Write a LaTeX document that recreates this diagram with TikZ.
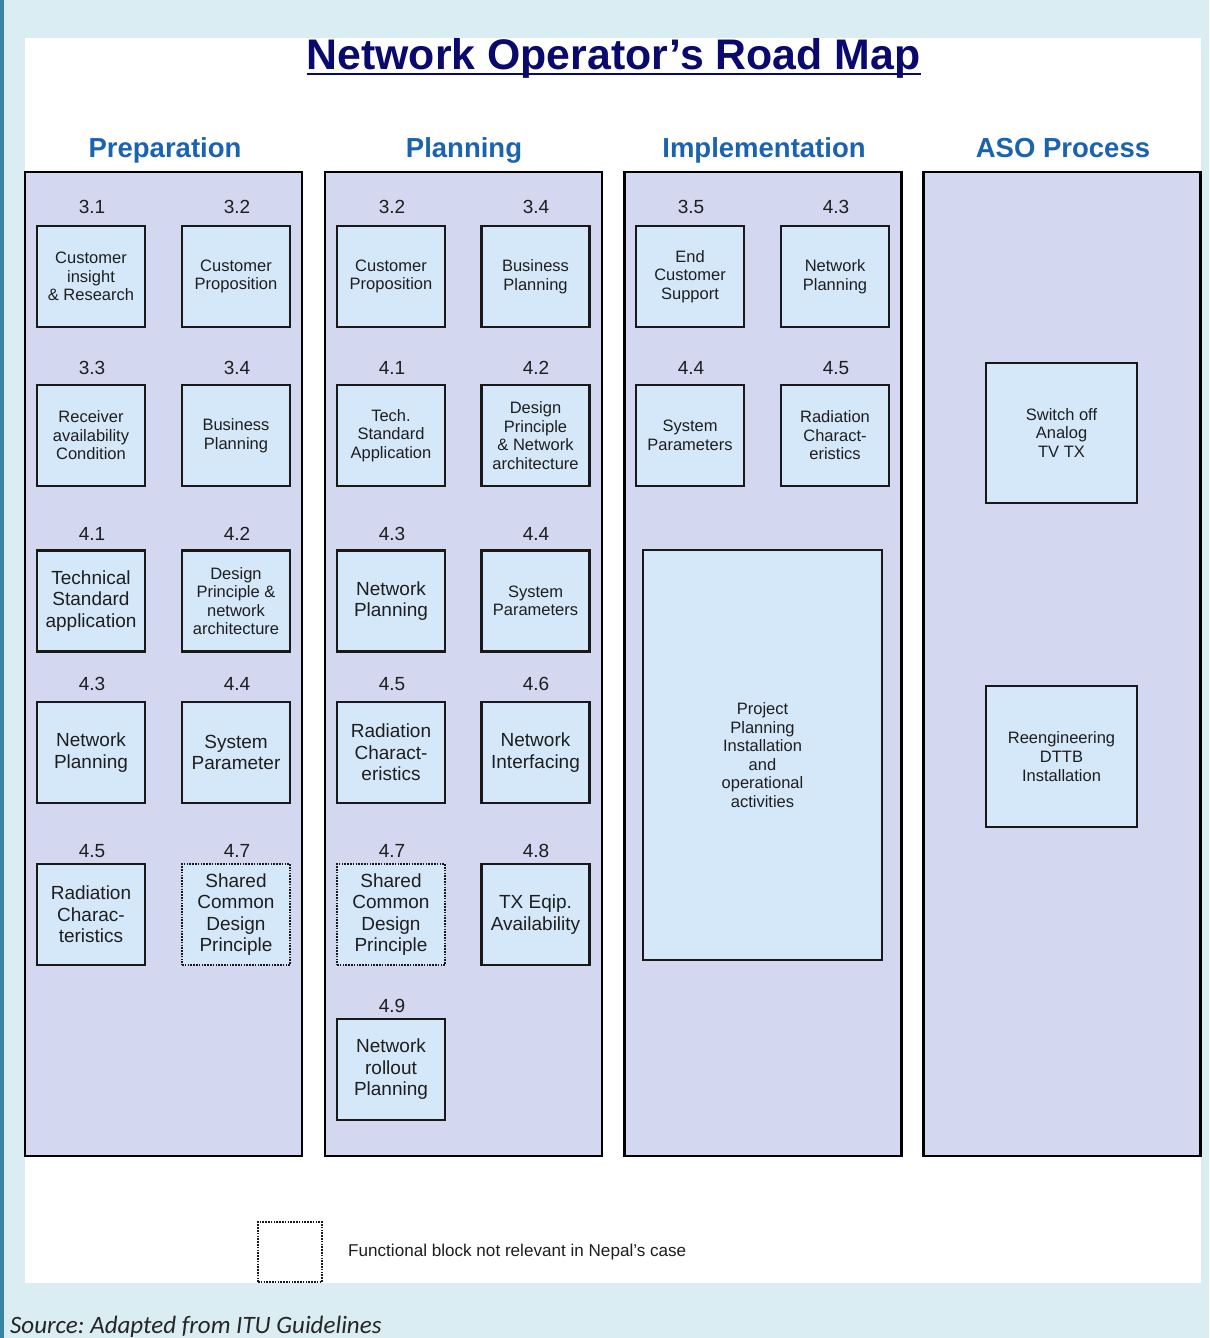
\documentclass[tikz,border=0pt]{standalone}
\usepackage{fontspec}
\setmainfont{Liberation Sans}
\newfontfamily\srcfont{Carlito}
\frenchspacing
\definecolor{pagebg}{HTML}{DAEDF3}
\definecolor{sidebar}{HTML}{3A86A2}
\definecolor{colfill}{HTML}{D3D7F0}
\definecolor{boxfill}{HTML}{D5E8FA}
\definecolor{titleblue}{HTML}{0A0A6E}
\definecolor{headblue}{HTML}{1A63B0}
\definecolor{txt}{HTML}{1E1E1E}
\tikzset{
  colbox/.style={draw=black, line width=2.5bp, fill=colfill, minimum width=277bp, minimum height=984bp, inner sep=0pt},
  fblock/.style={draw=black!90, line width=2.2bp, fill=boxfill, minimum width=108bp, minimum height=101bp, inner sep=0pt, align=center, text=txt, font=\fontsize{16.5bp}{18.6bp}\selectfont},
  bigtxt/.style={font=\fontsize{19bp}{21.5bp}\selectfont},
  notrel/.style={dash pattern=on 1.6bp off 1.2bp, line width=2bp},
  numlbl/.style={anchor=base, text=txt, inner sep=0pt, font=\fontsize{19bp}{22bp}\selectfont},
  colhead/.style={anchor=base, text=headblue, inner sep=0pt, font=\bfseries\fontsize{27.5bp}{30bp}\selectfont}
}
\begin{document}
\begin{tikzpicture}[x=1bp,y=-1bp]
\useasboundingbox (0,0) rectangle (1209,1338);
\fill[pagebg] (0,0) rectangle (1209,1338);
\fill[sidebar] (0,0) rectangle (4,1338);
\fill[white] (25,38) rectangle (1201,1283);

% title
\node[anchor=base, inner sep=0pt, text=titleblue, font=\bfseries\fontsize{42.8bp}{46bp}\selectfont] (title) at (613.5,69.5) {Network Operator’s Road Map};
\draw[titleblue, line width=2.5bp] ([yshift=-4.5bp]title.base west) -- ([yshift=-4.5bp]title.base east);

% column headers
\node[colhead] (hprep) at (165,158) {Preparation};
\node[colhead] (hplan) at (464,158) {Planning};
\node[colhead] (himpl) at (764,158) {Implementation};
\node[colhead] (haso) at (1063,158) {ASO Process};

% columns
\node[colbox] (prep) at (163.5,664) {};
\node[colbox] (plan) at (463.5,664) {};
\node[colbox] (impl) at (763,664) {};
\node[colbox] (aso) at (1062,664) {};

% Preparation
\node[numlbl] (l31) at (92,214) {3.1};
\node[numlbl] (l32) at (237,214) {3.2};
\node[fblock] (p31) at (91,276.5) {Customer\\insight\\\& Research};
\node[fblock] (p32) at (236,276.5) {Customer\\Proposition};
\node[numlbl] (l33) at (92,374) {3.3};
\node[numlbl] (l34) at (237,374) {3.4};
\node[fblock] (p33) at (91,435.5) {Receiver\\availability\\Condition};
\node[fblock] (p34) at (236,435.5) {Business\\Planning};
\node[numlbl] (l41) at (92,540) {4.1};
\node[numlbl] (l42) at (237,540) {4.2};
\node[fblock, bigtxt] (p41) at (91,601) {Technical\\Standard\\application};
\node[fblock] (p42) at (236,601) {Design\\Principle \&\\network\\architecture};
\node[numlbl] (l43) at (92,690) {4.3};
\node[numlbl] (l44) at (237,690) {4.4};
\node[fblock, bigtxt] (p43) at (91,752.5) {Network\\Planning};
\node[fblock, bigtxt] (p44) at (236,752.5) {System\\Parameter};
\node[numlbl] (l45) at (92,857) {4.5};
\node[numlbl] (l47) at (237,857) {4.7};
\node[fblock, bigtxt] (p45) at (91,914.5) {Radiation\\Charac-\\teristics};
\node[fblock, bigtxt, notrel] (p47) at (236,914.5) {Shared\\Common\\Design\\Principle};

% Planning
\node[numlbl] (m32) at (392,214) {3.2};
\node[numlbl] (m34) at (536,214) {3.4};
\node[fblock] (q32) at (391,276.5) {Customer\\Proposition};
\node[fblock] (q34) at (535.5,276.5) {Business\\Planning};
\node[numlbl] (m41) at (392,374) {4.1};
\node[numlbl] (m42) at (536,374) {4.2};
\node[fblock] (q41) at (391,435.5) {Tech.\\Standard\\Application};
\node[fblock] (q42) at (535.5,435.5) {Design\\Principle\\\& Network\\architecture};
\node[numlbl] (m43) at (392,540) {4.3};
\node[numlbl] (m44) at (536,540) {4.4};
\node[fblock, bigtxt] (q43) at (391,601) {Network\\Planning};
\node[fblock] (q44) at (535.5,601) {System\\Parameters};
\node[numlbl] (m45) at (392,690) {4.5};
\node[numlbl] (m46) at (536,690) {4.6};
\node[fblock, bigtxt] (q45) at (391,752.5) {Radiation\\Charact-\\eristics};
\node[fblock, bigtxt] (q46) at (535.5,752.5) {Network\\Interfacing};
\node[numlbl] (m47) at (392,857) {4.7};
\node[numlbl] (m48) at (536,857) {4.8};
\node[fblock, bigtxt, notrel] (q47) at (391,914.5) {Shared\\Common\\Design\\Principle};
\node[fblock, bigtxt] (q48) at (535.5,914.5) {TX Eqip.\\Availability};
\node[numlbl] (m49) at (392,1012) {4.9};
\node[fblock, bigtxt] (q49) at (391,1069.5) {Network\\rollout\\Planning};

% Implementation
\node[numlbl] (n35) at (691,214) {3.5};
\node[numlbl] (n43) at (836,214) {4.3};
\node[fblock] (r35) at (690,276.5) {End\\Customer\\Support};
\node[fblock] (r43) at (835,276.5) {Network\\Planning};
\node[numlbl] (n44) at (691,374) {4.4};
\node[numlbl] (n45) at (836,374) {4.5};
\node[fblock] (r44) at (690,435.5) {System\\Parameters};
\node[fblock] (r45) at (835,435.5) {Radiation\\Charact-\\eristics};
\node[fblock, minimum width=239bp, minimum height=410bp] (proj) at (762.5,755) {Project\\Planning\\Installation\\and\\operational\\activities};

% ASO Process
\node[fblock, minimum width=151bp, minimum height=140bp] (swoff) at (1061.5,433) {Switch off\\Analog\\TV TX};
\node[fblock, minimum width=151bp, minimum height=141bp] (reeng) at (1061.5,756.5) {Reengineering\\DTTB\\Installation};

% legend
\node[draw=black!90, notrel, fill=white, minimum width=64bp, minimum height=60bp, inner sep=0pt] (legbox) at (290,1252) {};
\node[anchor=west, inner sep=0pt, text=txt, font=\fontsize{17.1bp}{19bp}\selectfont] (legtxt) at (348,1252) {Functional block not relevant in Nepal’s case};

% source
\node[anchor=base west, inner sep=0pt, text=black!85, font=\srcfont\itshape\fontsize{25bp}{28bp}\selectfont] (src) at (10,1333) {Source: Adapted from ITU Guidelines};
\end{tikzpicture}
\end{document}
